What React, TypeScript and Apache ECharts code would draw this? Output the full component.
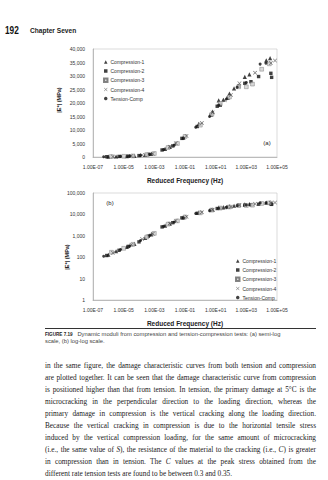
import React, { useEffect, useRef } from 'react';
import * as echarts from 'echarts';

// ---- Data : [reduced frequency (Hz), |E*| (MPa)] ----
const seriesNames = ['Compression-1', 'Compression-2', 'Compression-3', 'Compression-4', 'Tension-Comp'];

const compression1: [number, number][] = [
  [1.0e-6, 130], [3.2e-6, 190], [1.6e-5, 300], [5.0e-5, 420], [2.5e-4, 800], [6.3e-4, 1150],
  [5.0e-3, 3000], [1.0e-2, 3700], [7.9e-2, 7200], [0.79, 12300], [6.3, 16800], [15.8, 21000],
  [31.6, 21200], [79, 23500], [158, 25400], [794, 29700], [1585, 30600], [19950, 35800], [35480, 36600],
];
const compression2: [number, number][] = [
  [7.9e-7, 120], [5.0e-6, 210], [2.0e-5, 320], [1.0e-4, 520], [4.0e-4, 950], [3.2e-3, 2600],
  [1.6e-2, 4100], [6.3e-2, 6900], [0.63, 11300], [5.0, 15500], [12.6, 18800], [20, 19200],
  [63, 21800], [316, 26200], [794, 27300], [1995, 27900], [6310, 29800], [39810, 31000], [44670, 29500],
];
const compression3: [number, number][] = [
  [1.6e-6, 170], [1.0e-5, 260], [4.0e-5, 400], [3.2e-4, 880], [1.0e-3, 1300], [7.9e-3, 3500],
  [3.2e-2, 5000], [0.1, 7600], [1.0, 11800], [5.6, 15800], [20, 19800], [79, 22200],
  [316, 26000], [1000, 26000], [2512, 27000], [10000, 32500], [31620, 34500],
];
const compression4: [number, number][] = [
  [2.0e-6, 160], [3.2e-5, 380], [1.6e-4, 700], [7.9e-4, 1250], [1.0e-2, 3800], [2.5e-2, 5100],
  [0.126, 7800], [1.26, 12600], [6.3, 16500], [40, 21000], [100, 23000], [355, 27300],
  [3715, 31200], [39810, 34800], [74130, 35700],
];
const tensionComp: [number, number][] = [
  [5.0e-7, 110], [6.3e-6, 230], [2.5e-5, 330], [1.26e-4, 600], [5.0e-4, 1050], [4.0e-3, 2800],
  [2.0e-2, 4400], [7.9e-2, 7000], [0.5, 11000], [4.0, 15000], [15.8, 19200], [50, 21500],
  [251, 25800], [1000, 27600], [7943, 34400], [19050, 34700],
];
const seriesData = [compression1, compression2, compression3, compression4, tensionComp];

const xTickValues = [1e-7, 1e-5, 1e-3, 1e-1, 1e1, 1e3, 1e5];
const yTicksLinear = [0, 40000, 5000]; // min, max, interval
const yTickValuesLog = [1, 10, 100, 1000, 10000, 100000];

const xPath = 'path://M0,1L1,0L5,4L9,0L10,1L6,5L10,9L9,10L5,6L1,10L0,9L4,5Z';
const markers = [
  { symbol: 'triangle', size: 4.2, color: '#111', border: '#111' },
  { symbol: 'rect', size: 3.4, color: '#111', border: '#111' },
  { symbol: 'path://M0,0H10V10H0Z', size: 3.8, color: '#cfcfcf', border: '#666' },
  { symbol: xPath, size: 4, color: '#444', border: '#444' },
  { symbol: 'circle', size: 3, color: '#111', border: '#111' },
];

const FONT = '"Liberation Sans", Arial, sans-serif';

function fmtExp(v: number) {
  const e = Math.round(Math.log10(v));
  const s = e < 0 ? '-' : '+';
  return '1.00E' + s + String(Math.abs(e)).padStart(2, '0');
}
const fmtNum = (v: number) => Math.round(v).toLocaleString('en-US');

function xAxisFor(gridIndex: number) {
  return {
    type: 'log', gridIndex, logBase: 10, min: xTickValues[0], max: xTickValues[xTickValues.length - 1],
    axisLine: { show: true, lineStyle: { color: '#999', width: 0.6 } },
    axisTick: { show: false },
    splitLine: { show: false },
    axisLabel: { fontSize: 5, color: '#333', margin: 7, formatter: fmtExp, customValues: xTickValues },
    name: 'Reduced Frequency (Hz)', nameLocation: 'middle', nameGap: 20,
    nameTextStyle: { fontSize: 6.5, fontWeight: 'bold', color: '#222', fontFamily: FONT },
  };
}

const legendBase = {
  orient: 'vertical', itemWidth: 3.5, itemHeight: 3.5, itemGap: 4, selectedMode: false,
  textStyle: { fontSize: 5, color: '#333', lineHeight: 5, fontFamily: FONT, padding: [0, 0, 0, -2] },
  data: seriesNames,
};

const option: any = {
  animation: false,
  backgroundColor: '#fff',
  textStyle: { fontFamily: FONT },
  grid: [
    { left: 93, top: 49, width: 184, height: 108, show: true, borderColor: '#c4c4c4', borderWidth: 0.6 },
    { left: 93, top: 193, width: 184, height: 107, show: true, borderColor: '#c4c4c4', borderWidth: 0.6 },
  ],
  xAxis: [xAxisFor(0), xAxisFor(1)],
  yAxis: [
    {
      type: 'value', gridIndex: 0, min: yTicksLinear[0], max: yTicksLinear[1], interval: yTicksLinear[2],
      axisLine: { show: true, lineStyle: { color: '#999', width: 0.6 } },
      axisTick: { show: false }, splitLine: { show: false },
      axisLabel: { fontSize: 5, color: '#333', margin: 8, formatter: fmtNum },
    },
    {
      type: 'log', gridIndex: 1, logBase: 10, min: yTickValuesLog[0], max: yTickValuesLog[yTickValuesLog.length - 1],
      axisLine: { show: true, lineStyle: { color: '#999', width: 0.6 } },
      axisTick: { show: false }, splitLine: { show: false },
      axisLabel: { fontSize: 5, color: '#333', margin: 8, formatter: fmtNum, customValues: yTickValuesLog },
    },
  ],
  legend: [
    { ...legendBase, left: 98, top: 54.5 },
    { ...legendBase, left: 230, top: 253.5 },
  ],
  series: [0, 1].flatMap((g) =>
    seriesNames.map((name, i) => ({
      type: 'scatter', name, xAxisIndex: g, yAxisIndex: g,
      symbol: markers[i].symbol, symbolSize: markers[i].size,
      itemStyle: { color: markers[i].color, borderColor: markers[i].border, borderWidth: i === 2 ? 0.5 : 0 },
      data: seriesData[i],
    }))
  ),
  graphic: [
    { type: 'text', x: 5, y: 30, scaleX: 0.75, style: { text: '192', fontSize: 11, fontWeight: 'bold', fill: '#111', verticalAlign: 'middle', fontFamily: FONT } },
    { type: 'text', x: 30, y: 30, style: { text: 'Chapter Seven', fontSize: 6.6, fontWeight: 'bold', fill: '#222', verticalAlign: 'middle', fontFamily: FONT } },
    { type: 'text', x: 267, y: 143, style: { text: '(a)', fontSize: 6, fill: '#222', align: 'center', verticalAlign: 'middle', fontFamily: FONT } },
    { type: 'text', x: 110, y: 203, style: { text: '(b)', fontSize: 6, fill: '#222', align: 'center', verticalAlign: 'middle', fontFamily: FONT } },
    { type: 'text', x: 59, y: 100, rotation: Math.PI / 2, style: { text: '|E*| (MPa)', fontSize: 5.5, fontWeight: 'bold', fill: '#222', align: 'center', verticalAlign: 'middle', fontFamily: FONT } },
    { type: 'text', x: 67, y: 257, rotation: Math.PI / 2, style: { text: '|E*| (MPa)', fontSize: 5.5, fontWeight: 'bold', fill: '#222', align: 'center', verticalAlign: 'middle', fontFamily: FONT } },
    { type: 'line', shape: { x1: 45, y1: 328.5, x2: 316, y2: 328.5 }, style: { stroke: '#333', lineWidth: 1 } },
    {
      type: 'text', x: 45, y: 334,
      style: {
        text: '{f|FIGURE 7.19}   Dynamic moduli from compression and tension-compression tests: (a) semi-log',
        fontSize: 5.8, fill: '#444', verticalAlign: 'middle', fontFamily: FONT,
        rich: { f: { fontSize: 4.6, fontWeight: 'bold', fill: '#222', fontFamily: FONT } },
      },
    },
    { type: 'text', x: 45, y: 341, style: { text: 'scale, (b) log-log scale.', fontSize: 5.8, fill: '#444', verticalAlign: 'middle', fontFamily: FONT } },
  ],
};

const lineStyle: React.CSSProperties = { textAlign: 'justify', textAlignLast: 'justify', whiteSpace: 'nowrap', height: 12 };

export default function App() {
  const ref = useRef<HTMLDivElement>(null);
  useEffect(() => {
    const chart = echarts.init(ref.current!, null, { renderer: 'svg' });
    chart.setOption(option);
    return () => chart.dispose();
  }, []);
  return (
    <div style={{ position: 'fixed', left: 0, top: 0, width: 328, height: 480, background: '#fff', overflow: 'hidden' }}>
      <div ref={ref} style={{ position: 'absolute', left: 0, top: 0, width: 328, height: 480 }} />
      <div style={{ position: 'absolute', left: 45, top: 360, width: 271, fontFamily: '"Liberation Serif", serif', fontSize: 7.3, lineHeight: '12px', color: '#1a1a1a' }}>
        <div style={lineStyle}>in the same figure, the damage characteristic curves from both tension and compression</div>
        <div style={lineStyle}>are plotted together. It can be seen that the damage characteristic curve from compression</div>
        <div style={lineStyle}>is positioned higher than that from tension. In tension, the primary damage at 5°C is the</div>
        <div style={lineStyle}>microcracking in the perpendicular direction to the loading direction, whereas the</div>
        <div style={lineStyle}>primary damage in compression is the vertical cracking along the loading direction.</div>
        <div style={lineStyle}>Because the vertical cracking in compression is due to the horizontal tensile stress</div>
        <div style={lineStyle}>induced by the vertical compression loading, for the same amount of microcracking</div>
        <div style={lineStyle}>(i.e., the same value of <i>S</i>), the resistance of the material to the cracking (i.e., <i>C</i>) is greater</div>
        <div style={lineStyle}>in compression than in tension. The <i>C</i> values at the peak stress obtained from the</div>
        <div style={{ height: 12, whiteSpace: 'nowrap' }}>different rate tension tests are found to be between 0.3 and 0.35.</div>
      </div>
    </div>
  );
}
